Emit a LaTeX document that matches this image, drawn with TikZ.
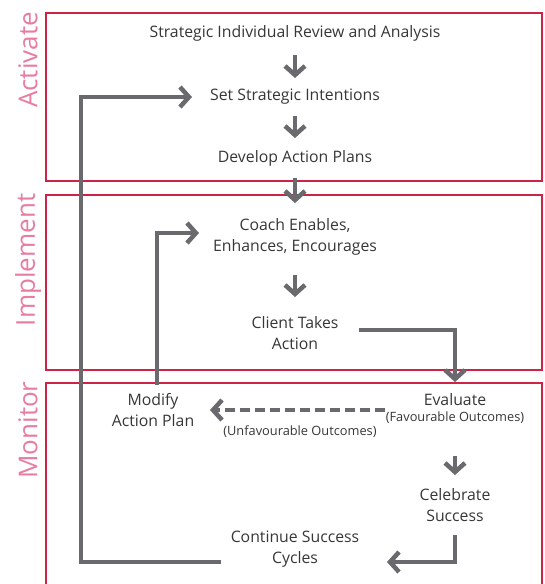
\documentclass[tikz,border=0pt]{standalone}
\usepackage{fontspec}
\setmainfont{Open Sans}
\usetikzlibrary{arrows.meta}
\definecolor{boxred}{RGB}{205,35,70}
\definecolor{labpink}{RGB}{232,125,160}
\definecolor{arrgray}{RGB}{105,105,110}
\definecolor{txtgray}{RGB}{55,55,55}
\tikzset{
  phase/.style={draw=boxred, line width=2.5pt},
  phaselab/.style={text=labpink, font=\fontsize{26}{28}\selectfont, rotate=90, inner sep=0pt},
  txt/.style={text=txtgray, font=\fontsize{15.8}{21}\selectfont, align=center, inner sep=0pt},
  smalltxt/.style={text=txtgray, font=\fontsize{12.8}{13}\selectfont, inner sep=0pt},
  arr/.style={draw=arrgray, line width=4pt, -{Straight Barb[length=9pt,width=20pt,line width=4.5pt]}},
  dasharr/.style={arr, dash pattern=on 10pt off 5pt},
}
\begin{document}
\begin{tikzpicture}[x=1pt,y=-1pt]
\clip (0,0) rectangle (545,584);
\fill[white] (0,0) rectangle (545,584);
% phase boxes
\draw[phase] (46,13) rectangle (542,181);
\draw[phase] (46,195) rectangle (542,370);
\draw[phase] (46,383) rectangle (542,620);
\node[phaselab] (lact) at (28,60) {Activate};
\node[phaselab] (limp) at (28,260) {Implement};
\node[phaselab] (lmon) at (28,430) {Monitor};
% texts
\node[txt] (sira) at (295,33) {Strategic Individual Review and Analysis};
\node[txt] (ssi) at (295,97) {Set Strategic Intentions};
\node[txt] (dap) at (295,158) {Develop Action Plans};
\node[txt] (coach) at (295,237) {Coach Enables,\\Enhances, Encourages};
\node[txt] (cta) at (295,333.5) {Client Takes\\Action};
\node[txt] (mod) at (153,410) {Modify\\Action Plan};
\node[txt] (eval) at (455,400) {Evaluate};
\node[smalltxt] (fav) at (455,418) {(Favourable Outcomes)};
\node[smalltxt] (unfav) at (300,432) {(Unfavourable Outcomes)};
\node[txt] (cel) at (455,505) {Celebrate\\Success};
\node[txt] (cont) at (295,549.5) {Continue Success\\Cycles};
\coordinate (loopL) at (81,300);
% connectors
\draw[arr] ([yshift=-22]sira.center) -- ([yshift=19]ssi.center);
\draw[arr] ([yshift=-19]ssi.center) -- ([yshift=20]dap.center);
\draw[arr] ([yshift=-20]dap.center) -- ([yshift=34]coach.center);
\draw[arr] ([yshift=-38]coach.center) -- ([yshift=36.5]cta.center);
\draw[arr] ([xshift=64,yshift=3.5]cta.center) -| ([yshift=18]eval.center);
\draw[dasharr] ([xshift=-70,yshift=-10]eval.center) -- ([xshift=57]mod.center);
\draw[arr] ([yshift=-56]eval.center) -- ([yshift=30]cel.center);
\draw[arr] ([yshift=-30]cel.center) |- ([xshift=92,yshift=-12.5]cont.center);
\draw[arr] ([xshift=-74,yshift=-12.5]cont.center) -| (loopL |- ssi.center) -- ([xshift=-103]ssi.center);
\draw[arr] ([xshift=4,yshift=25]mod.center) |- ([xshift=-96,yshift=4]coach.center);
\end{tikzpicture}
\end{document}
